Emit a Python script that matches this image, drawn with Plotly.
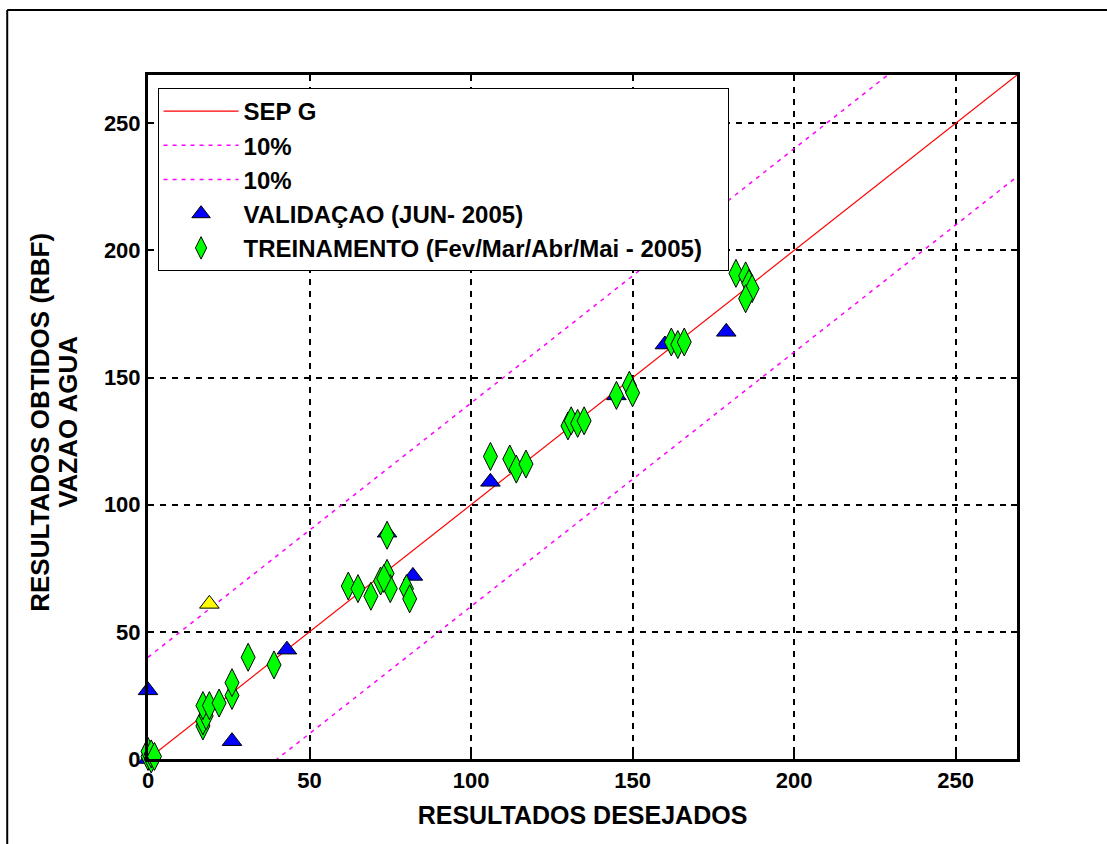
import plotly.graph_objects as go

# Training (green diamonds)
train_x = [0, 0, 1, 1, 2,
           17, 17, 18, 17, 19, 22, 26, 26, 31, 39,
           62, 65, 69, 72, 74, 75, 80, 81, 74, 73,
           106, 112, 114, 117,
           130, 131, 133, 135,
           145, 149, 150,
           162, 164, 166,
           182, 185, 186, 187, 185]
train_y = [1, 3, 0, 2, 1,
           13, 15, 17, 21, 21, 22, 25, 30, 40, 37,
           68, 67, 64, 70, 73, 67, 67, 63, 88, 71,
           119, 118, 114, 116,
           131, 133, 132, 133,
           143, 147, 144,
           164, 163, 164,
           191, 190, 187, 185, 181]

# Validation (blue triangles)
val_x = [0, 0, 26, 43, 74, 82, 106, 145, 160, 179]
val_y = [0, 27, 7, 43, 89, 72, 109, 143, 163, 168]

# Highlighted point (yellow)
hi_x = [19]
hi_y = [61]

line_x = [0, 270]
offset = 40
axis_max = 269
ticks = [0, 50, 100, 150, 200, 250]

FONT = "Liberation Sans, Arial"

fig = go.Figure()
fig.add_trace(go.Scatter(x=line_x, y=[v for v in line_x], mode="lines",
                         line=dict(color="#ff0000", width=1.2), name="SEP G"))
fig.add_trace(go.Scatter(x=line_x, y=[v + offset for v in line_x], mode="lines",
                         line=dict(color="#ff00ff", width=1.5, dash="4px,5px"), name="10%"))
fig.add_trace(go.Scatter(x=line_x, y=[v - offset for v in line_x], mode="lines",
                         line=dict(color="#ff00ff", width=1.5, dash="4px,5px"), name="10%"))
fig.add_trace(go.Scatter(x=val_x, y=val_y, mode="markers", name="VALIDAÇAO (JUN- 2005)",
                         cliponaxis=False,
                         marker=dict(symbol="triangle-up", size=17, color="#0000ff",
                                     line=dict(color="black", width=1))))
fig.add_trace(go.Scatter(x=train_x, y=train_y, mode="markers",
                         name="TREINAMENTO (Fev/Mar/Abr/Mai - 2005)&nbsp;&nbsp;&nbsp;",
                         cliponaxis=False,
                         marker=dict(symbol="diamond-tall", size=20, color="#00ff00",
                                     line=dict(color="black", width=1))))
fig.add_trace(go.Scatter(x=hi_x, y=hi_y, mode="markers", showlegend=False,
                         cliponaxis=False,
                         marker=dict(symbol="triangle-up", size=17, color="#ffff00",
                                     line=dict(color="black", width=1))))

axis_common = dict(
    range=[0, axis_max], tickvals=ticks, ticks="inside", ticklen=6, tickwidth=2,
    tickcolor="black", showline=True, linecolor="black", linewidth=3, mirror="ticks",
    showgrid=True, gridcolor="black", gridwidth=1.5, griddash="6px,6px",
    zeroline=False,
    tickfont=dict(family=FONT, size=22, color="black", weight="bold"),
)

title_font = dict(family=FONT, size=25, color="black", weight="bold")

fig.update_layout(
    width=1107, height=844,
    paper_bgcolor="white", plot_bgcolor="white",
    margin=dict(l=148, r=90, t=75, b=85),
    xaxis=dict(**axis_common,
               title=dict(text="RESULTADOS DESEJADOS", standoff=15, font=title_font)),
    yaxis=dict(**axis_common),
    legend=dict(x=0.011, y=0.981, xanchor="left", yanchor="top",
                bgcolor="white", bordercolor="black", borderwidth=1,
                font=dict(family=FONT, size=24, color="black", weight="bold"),
                itemwidth=75),
    showlegend=True,
    annotations=[
        dict(text="RESULTADOS OBTIDOS (RBF)", xref="paper", yref="paper",
             x=-0.1243, y=0.493, textangle=-90, showarrow=False,
             xanchor="center", yanchor="middle",
             font=dict(family=FONT, size=26, color="black", weight="bold")),
        dict(text="VAZAO AGUA", xref="paper", yref="paper",
             x=-0.092, y=0.493, textangle=-90, showarrow=False,
             xanchor="center", yanchor="middle",
             font=dict(family=FONT, size=26, color="black", weight="bold")),
    ],
    shapes=[
        dict(type="line", xref="paper", yref="paper", x0=-0.162, x1=1.2, y0=1.095, y1=1.095,
             line=dict(color="black", width=2)),
        dict(type="line", xref="paper", yref="paper", x0=-0.162, x1=-0.162, y0=-0.2, y1=1.095,
             line=dict(color="black", width=2)),
    ],
)

fig.write_html("out.html")
